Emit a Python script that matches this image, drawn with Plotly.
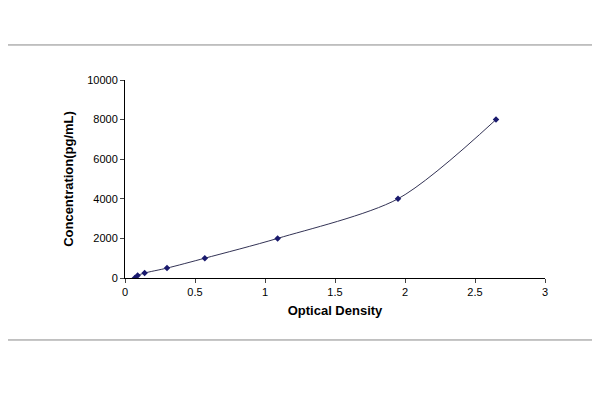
import plotly.graph_objects as go

od = [0.07, 0.09, 0.14, 0.30, 0.57, 1.09, 1.95, 2.65]
conc = [0, 125, 250, 500, 1000, 2000, 4000, 8000]
xticks = [0, 0.5, 1, 1.5, 2, 2.5, 3]
xlabels = ["0", "0.5", "1", "1.5", "2", "2.5", "3"]
yticks = [0, 2000, 4000, 6000, 8000, 10000]
ylabels = ["0", "2000", "4000", "6000", "8000", "10000"]

fig = go.Figure()
fig.add_trace(go.Scatter(x=od, y=conc, mode="lines+markers",
                         line=dict(color="#333355", width=1, shape="spline", smoothing=0.8),
                         marker=dict(symbol="diamond", size=5, color="#1a1a6e")))
fig.update_layout(
    width=600, height=400, plot_bgcolor="white", paper_bgcolor="white",
    margin=dict(l=117, r=63, t=72, b=130), showlegend=False,
    font=dict(family="Liberation Sans, Arial", size=11, color="black"),
    xaxis=dict(range=[0, 3], tickvals=xticks, ticktext=xlabels, showline=True,
               linecolor="black", ticks="outside", ticklen=4, showgrid=False, zeroline=False,
               title=dict(text="<b>Optical Density</b>", standoff=8)),
    yaxis=dict(range=[0, 10000], tickvals=yticks, ticktext=ylabels, showline=True, linecolor="black",
               ticks="outside", ticklen=4, showgrid=False, zeroline=False,
               title=dict(text="<b>Concentration(pg/mL)</b>", standoff=10)),
    shapes=[dict(type="rect", xref="paper", yref="paper", x0=-0.293, x1=1.119,
                 y0=-0.313, y1=1.177, line=dict(color="#888888", width=1))],
)
fig.write_html("out.html")
